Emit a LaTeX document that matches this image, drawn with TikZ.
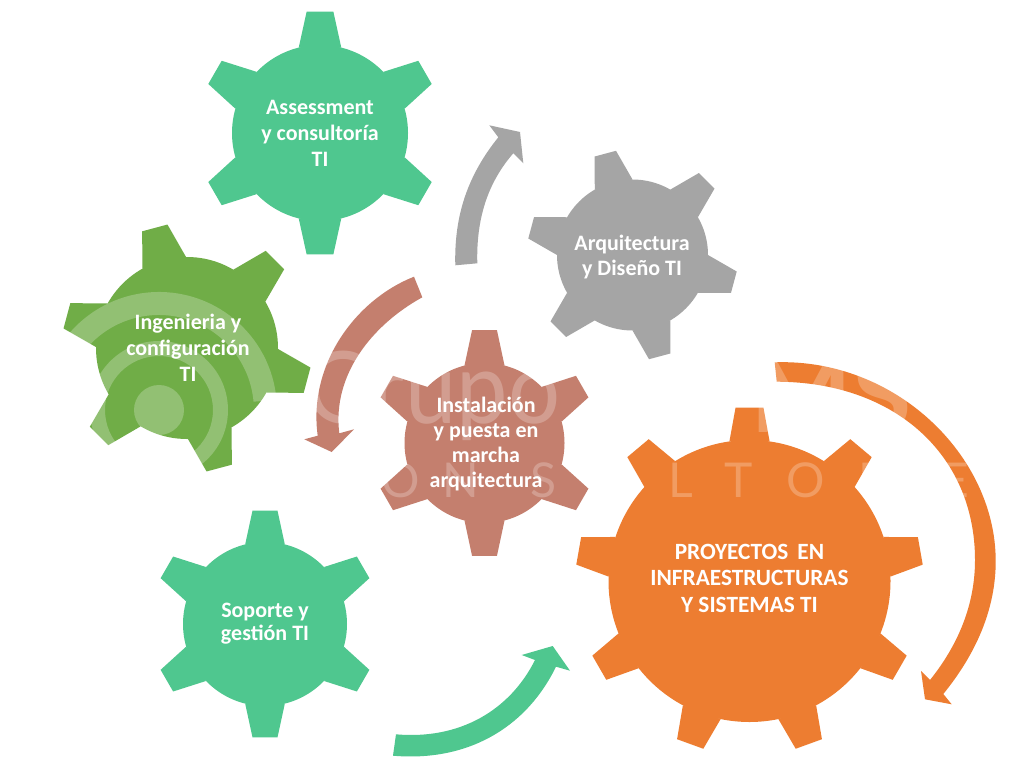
\documentclass[tikz,border=0pt]{standalone}
\usepackage{fontspec}
\setmainfont{Carlito}
\newfontfamily\wmfont{Lato}
\definecolor{teal}{HTML}{4FC78F}
\definecolor{leaf}{HTML}{70AD47}
\definecolor{stone}{HTML}{A5A5A5}
\definecolor{clay}{HTML}{C47F6E}
\definecolor{amber}{HTML}{ED7D31}
% colour, cx, cy, body r, tip R, rotation, teeth, base half angle, tip half angle
\newcommand\gearfig[9]{%
  \fill[#1] (#2,#3) circle[radius=#4];
  \foreach \k in {1,...,#7}{
    \pgfmathsetmacro\ga{#6+360*\k/#7}
    \fill[#1] ({#2+#4*cos(\ga-#8)},{#3-#4*sin(\ga-#8)})
      -- ({#2+#5*cos(\ga-#9)},{#3-#5*sin(\ga-#9)})
      -- ({#2+#5*cos(\ga+#9)},{#3-#5*sin(\ga+#9)})
      -- ({#2+#4*cos(\ga+#8)},{#3-#4*sin(\ga+#8)}) -- cycle;
  }%
}
\tikzset{
  label/.style={text=white,font=\bfseries\fontsize{22}{26}\selectfont,align=center,inner sep=0pt},
  wmletter/.style={text=white,text opacity=.24,inner sep=0pt,anchor=base,font=\wmfont\fontsize{48}{48}\selectfont},
  wmshape/.style={fill=white,fill opacity=.24,even odd rule},
}
\begin{document}
\begin{tikzpicture}[x=1pt,y=-1pt]
\fill[white] (0,0) rectangle (1024,768);
\useasboundingbox (0,0) rectangle (1024,768);
% gears
\gearfig{teal}{320}{133}{88}{122}{30}{6}{14}{6.3}
\gearfig{leaf}{187}{348}{91}{125}{45}{6}{14.4}{6}
\gearfig{stone}{632.5}{255}{75.5}{105.5}{45}{6}{15}{6}
\gearfig{clay}{484.5}{443}{80}{113.5}{30}{6}{14.5}{6.3}
\gearfig{teal}{265}{624}{82}{114}{30}{6}{14}{6.3}
\gearfig{amber}{749.5}{581}{141}{174}{10}{9}{8.2}{4.6}
% block arrows
\fill[stone] (455.3,265.3) .. controls (454,215) and (468,175) .. (498.3,137.3)
  -- (489.3,125.3) -- (520,132) -- (523.3,163.3) -- (513.3,153.3)
  .. controls (490,180) and (476,215) .. (477.3,263.3) -- cycle;
\fill[clay] (414,276.7) .. controls (355,300) and (308,365) .. (317.7,435.7)
  -- (304.3,439.3) -- (331.7,452) -- (354,429.3) -- (339.3,433.3)
  .. controls (332,375) and (372,325) .. (422.3,297.3) -- cycle;
\fill[teal] (396,734.3) .. controls (460,740) and (510,710) .. (535,660)
  -- (521.7,655) -- (552.7,646) -- (570,670.7) -- (556,666.7)
  .. controls (525,730) and (465,762) .. (393,755.7) -- cycle;
\fill[amber] (774.7,362.3) .. controls (895,358) and (995,455) .. (995.7,560)
  .. controls (996,610) and (975,655) .. (943.3,694)
  -- (951.7,704.3) -- (925,699.3) -- (921,671) -- (930,680)
  .. controls (958,645) and (975,605) .. (975,560)
  .. controls (975,455) and (895,382) .. (776.7,381.7) -- cycle;
% faded logo
\fill[wmshape] (159,410) circle[radius=25];
\fill[wmshape] (159,410) circle[radius=69] (159,410) circle[radius=54];
\fill[wmshape] (276.5,399.7) arc[start angle=-5,end angle=-190,radius=118]
  -- ++(22.6,-4) arc[start angle=-190,end angle=-5,radius=95] -- cycle;
\node[wmletter,anchor=base west,xscale=.92,font=\wmfont\fontsize{100}{100}\selectfont] (wmgrupo) at (305,423) {Grupo};
\node[wmletter,anchor=base west,font=\wmfont\bfseries\fontsize{108}{108}\selectfont] (wmms) at (750,432) {MS};
\node[wmletter] (wc) at (340,497) {C};
\node[wmletter] (wo) at (401,497) {O};
\node[wmletter] (wn) at (461,497) {N};
\node[wmletter] (ws) at (544,497) {S};
\node[wmletter] (wu) at (612,497) {U};
\node[wmletter] (wl) at (681,497) {L};
\node[wmletter] (wt) at (739,497) {T};
\node[wmletter] (wo2) at (806,497) {O};
\node[wmletter] (wr) at (874,497) {R};
\node[wmletter] (we) at (955,497) {E};
% labels
\node[label] (assess) at (320,133.5) {Assessment\\y consultoría\\TI};
\node[label] (ingen) at (188,348) {Ingenieria y\\configuración\\TI};
\node[label,font=\bfseries\fontsize{22}{25}\selectfont] (arqui) at (632,257) {Arquitectura\\y Diseño TI};
\node[label,font=\bfseries\fontsize{22}{24.7}\selectfont] (insta) at (486,444) {Instalación\\y puesta en\\marcha\\arquitectura};
\node[label,font=\bfseries\fontsize{22}{23.5}\selectfont] (sopor) at (265,623.5) {Soporte y\\gestión TI};
\node[label,font=\bfseries\fontsize{23.3}{26.5}\selectfont] (proy) at (749.5,578) {PROYECTOS\,  EN\\INFRAESTRUCTURAS\\Y SISTEMAS TI};
\end{tikzpicture}
\end{document}
